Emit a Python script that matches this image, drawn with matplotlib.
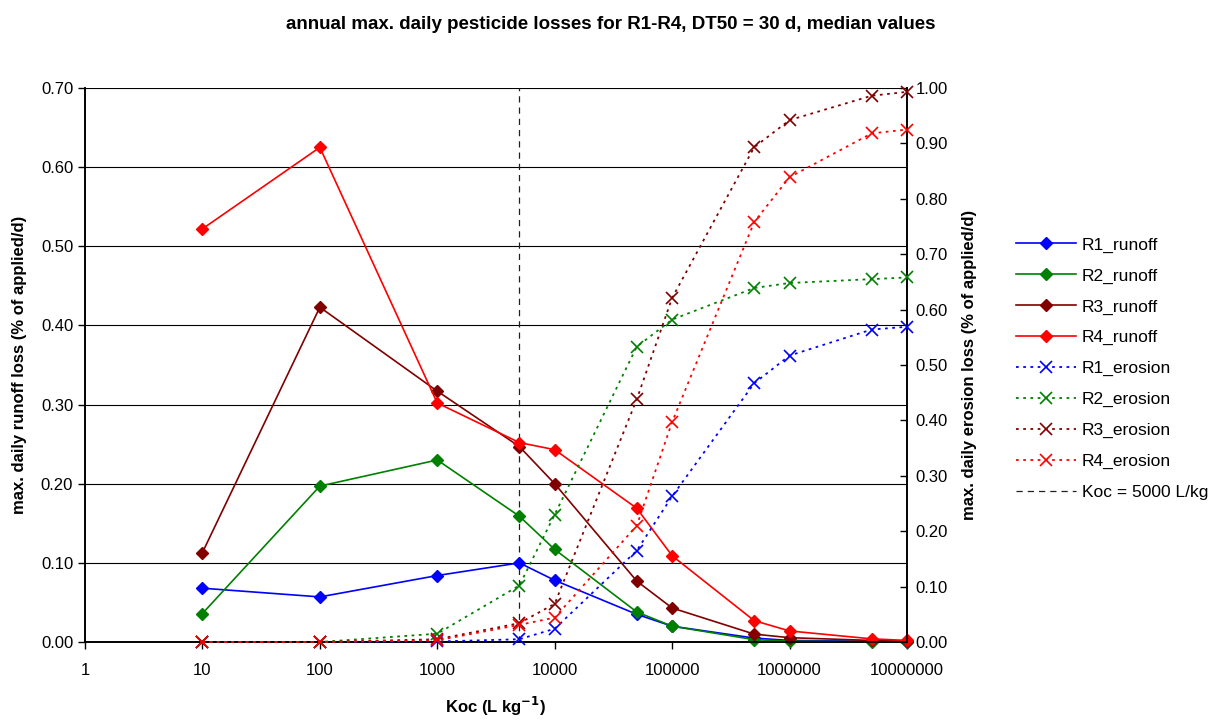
import matplotlib as mpl
mpl.use('Agg')
import matplotlib.pyplot as plt
from matplotlib.ticker import FormatStrFormatter, FixedLocator, FuncFormatter

plt.rcParams['font.family'] = ['Liberation Sans', 'DejaVu Sans']

# Koc values (L/kg)
koc = [10, 100, 1000, 5000, 10000, 50000, 100000, 500000, 1000000, 5000000, 10000000]

# runoff losses, left axis
r1_runoff = [0.068, 0.057, 0.084, 0.100, 0.078, 0.035, 0.020, 0.005, 0.002, 0.001, 0.0005]
r2_runoff = [0.036, 0.197, 0.230, 0.159, 0.117, 0.038, 0.020, 0.003, 0.001, 0.0005, 0.0003]
r3_runoff = [0.113, 0.423, 0.317, 0.247, 0.200, 0.077, 0.043, 0.010, 0.0055, 0.002, 0.001]
r4_runoff = [0.522, 0.625, 0.302, 0.252, 0.243, 0.169, 0.109, 0.027, 0.014, 0.004, 0.002]

# erosion losses, right axis
r1_erosion = [0.0, 0.0, 0.001, 0.005, 0.024, 0.165, 0.263, 0.467, 0.517, 0.564, 0.569]
r2_erosion = [0.0, 0.0, 0.015, 0.102, 0.230, 0.533, 0.582, 0.639, 0.648, 0.655, 0.658]
r3_erosion = [0.0, 0.0, 0.005, 0.034, 0.069, 0.438, 0.621, 0.893, 0.942, 0.986, 0.993]
r4_erosion = [0.0, 0.0, 0.003, 0.031, 0.044, 0.210, 0.397, 0.758, 0.839, 0.918, 0.925]

colors = ['#0000FF', '#008000', '#800000', '#FF0000']
koc_line = 5000

fig = plt.figure(figsize=(12.21, 7.2), dpi=100)
ax = fig.add_axes([0.0696, 0.1083, 0.6732, 0.7695])
ax2 = ax.twinx()

handles = []
runoff = [r1_runoff, r2_runoff, r3_runoff, r4_runoff]
for i, ys in enumerate(runoff):
	h, = ax.plot(koc, ys, color=colors[i], lw=1.2, marker='D', ms=6,
		label='R%d_runoff' % (i + 1), clip_on=False, zorder=3)
	handles.append(h)

erosion = [r1_erosion, r2_erosion, r3_erosion, r4_erosion]
for i, ys in enumerate(erosion):
	h, = ax2.plot(koc, ys, color=colors[i], lw=1.3, ls=(0, (1.5, 2.5)), marker='x',
		ms=8, mew=1.2, label='R%d_erosion' % (i + 1), clip_on=False, zorder=3)
	handles.append(h)

vl = ax.axvline(koc_line, color='#202020', lw=0.9, ls=(0, (5, 4)), label='Koc = 5000 L/kg', zorder=2)
handles.append(vl)

ax.set_xscale('log')
ax.set_xlim(1, 1e7)
ax.xaxis.set_major_locator(FixedLocator([10 ** k for k in range(8)]))
ax.xaxis.set_minor_locator(FixedLocator([]))
ax.xaxis.set_major_formatter(FuncFormatter(lambda v, p: '%d' % round(v)))

ax.set_ylim(0, 0.7)
ax.set_yticks([k / 10.0 for k in range(8)])
ax.yaxis.set_major_formatter(FormatStrFormatter('%.2f'))
ax2.set_ylim(0, 1.0)
ax2.set_yticks([k / 10.0 for k in range(11)])
ax2.yaxis.set_major_formatter(FormatStrFormatter('%.2f'))

ax.grid(True, axis='y', color='black', lw=0.8)
ax.set_axisbelow(True)
for a in (ax, ax2):
	a.spines['top'].set_visible(False)
	a.spines['left'].set_linewidth(1.2)
	a.spines['right'].set_linewidth(1.2)
	a.spines['bottom'].set_linewidth(1.2)

ax.tick_params(axis='both', labelsize=12, direction='out', length=5, width=1.0)
ax.tick_params(axis='x', pad=10)
ax2.tick_params(axis='y', labelsize=12, direction='in', length=5, width=1.0, pad=6)

ax.set_xlabel('Koc (L kg$^{\\mathbf{-1}}$)', fontsize=12, fontweight='bold', labelpad=12)
ax.set_ylabel('max. daily runoff loss (% of applied/d)', fontsize=12, fontweight='bold', labelpad=10)
ax2.set_ylabel('max. daily erosion loss (% of applied/d)', fontsize=12, fontweight='bold', labelpad=10)

fig.suptitle('annual max. daily pesticide losses for R1-R4, DT50 = 30 d, median values',
	fontsize=13.5, fontweight='bold', x=0.5, y=0.978)

fig.legend(handles=handles, loc='upper left', bbox_to_anchor=(0.819, 0.692),
	frameon=False, fontsize=12.5, handlelength=3.5, labelspacing=0.9, handletextpad=0.3)

fig.savefig('out.png', dpi=100)
plt.close()
